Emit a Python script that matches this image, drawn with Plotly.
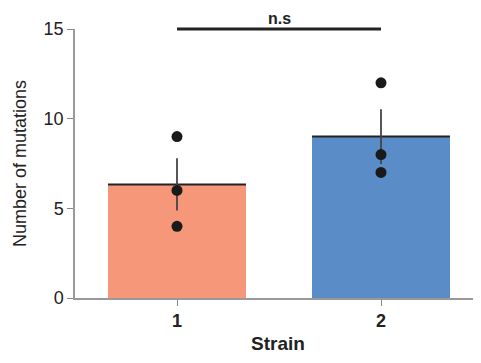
import numpy as np
import plotly.graph_objects as go

strains = [1, 2]
strain_labels = ["1", "2"]
mutations_1 = [4, 6, 9]
mutations_2 = [7, 8, 12]
bar_colors = ["#F6977A", "#5A8DC8"]
y_ticks = [0, 5, 10, 15]
sig_label = "n.s"

groups = [mutations_1, mutations_2]
means = [float(np.mean(g)) for g in groups]
sems = [float(np.std(g, ddof=1) / np.sqrt(len(g))) for g in groups]
bar_w = 0.676

fig = go.Figure()
fig.add_trace(go.Bar(x=strains, y=means, width=bar_w, marker=dict(color=bar_colors, line=dict(width=0)),
                     showlegend=False))
# mean line on top of bars
for s, m in zip(strains, means):
    fig.add_trace(go.Scatter(x=[s - bar_w / 2, s + bar_w / 2], y=[m, m], mode="lines",
                             line=dict(color="#222222", width=2), showlegend=False, hoverinfo="skip"))
# error bars (SEM)
for s, m, e in zip(strains, means, sems):
    fig.add_trace(go.Scatter(x=[s, s], y=[m - e, m + e], mode="lines",
                             line=dict(color="#444444", width=1.8), showlegend=False, hoverinfo="skip"))
# points
for s, g in zip(strains, groups):
    fig.add_trace(go.Scatter(x=[s] * len(g), y=g, mode="markers",
                             marker=dict(color="#1a1a1a", size=11), showlegend=False))
# significance bar at the top of the y axis (y domain = 1 -> 15), not clipped vertically
fig.add_shape(type="line", xref="x", yref="y domain", x0=strains[0], x1=strains[1],
              y0=1, y1=1, line=dict(color="#222222", width=3), layer="above")
fig.add_annotation(x=(strains[0] + strains[1]) / 2, y=y_ticks[-1], text="<b>" + sig_label + "</b>",
                   showarrow=False, yanchor="bottom", yshift=0, font=dict(size=16, color="#222222"))

# page body has an 8px default margin, so the figure is sized/placed to compensate
fig.update_layout(
    width=473, height=355,
    margin=dict(l=67, r=0, t=21, b=65),
    plot_bgcolor="white", paper_bgcolor="white",
    font=dict(family="Liberation Sans, Arial, sans-serif", color="#222222"),
    bargap=0,
)
fig.update_xaxes(range=[0.5, 0.5 + 406 / 204], tickvals=strains,
                 ticktext=["<b>" + t + "</b>" for t in strain_labels],
                 tickfont=dict(size=18, color="#222222"), ticks="outside", ticklen=6, tickcolor="#888888",
                 showline=True, linecolor="#999999", linewidth=1.5, showgrid=False, zeroline=False,
                 title=dict(text="<b>Strain</b>", font=dict(size=19, color="#222222"), standoff=6))
fig.update_yaxes(range=[0, 15], tickvals=y_ticks, tickfont=dict(size=18, color="#222222"),
                 ticks="outside", ticklen=6, tickcolor="#888888",
                 showline=True, linecolor="#999999", linewidth=1.5, showgrid=False, zeroline=False,
                 title=dict(text="Number of mutations", font=dict(size=18, color="#222222"), standoff=12))

fig.write_html("out.html")
